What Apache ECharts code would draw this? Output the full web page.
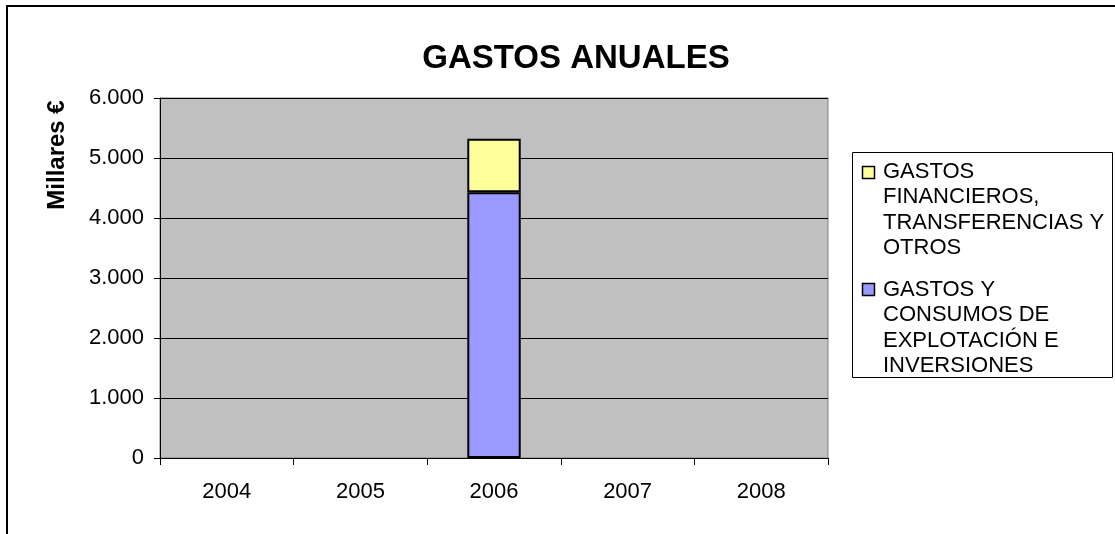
<!DOCTYPE html>
<html>
<head>
<meta charset="utf-8">
<script src="https://cdn.jsdelivr.net/npm/echarts@6/dist/echarts.min.js"></script>
<style>html,body{margin:0;padding:0;background:#fff;}#c{width:1115px;height:534px;}</style>
</head>
<body>
<div id="c"></div>
<script>
const titleText = 'GASTOS ANUALES';
const yAxisName = 'Millares €';
const categories = ['2004', '2005', '2006', '2007', '2008'];
const seriesNames = ['GASTOS Y CONSUMOS DE EXPLOTACIÓN E INVERSIONES', 'GASTOS FINANCIEROS, TRANSFERENCIAS Y OTROS'];
const legendLabels = ['GASTOS\nFINANCIEROS,\nTRANSFERENCIAS Y\nOTROS', 'GASTOS Y\nCONSUMOS DE\nEXPLOTACIÓN E\nINVERSIONES'];
const explotacion = [null, null, 4430, null, null];
const financieros = [null, null, 890, null, null];
const yTicks = [0, 1000, 2000, 3000, 4000, 5000, 6000];

const FONT = "'Liberation Sans', Arial, sans-serif";
const colors = ['#9999FF', '#FFFF99'];

const chart = echarts.init(document.getElementById('c'), null, {renderer: 'canvas'});
const fmt = v => String(v).replace(/\B(?=(\d{3})+(?!\d))/g, '.');

const legendItems = [
  {label: legendLabels[0], color: colors[1], sy: 166, ty: 159},
  {label: legendLabels[1], color: colors[0], sy: 283, ty: 277}
];
const graphics = [
  {type: 'rect', shape: {x: 7, y: 6, width: 1300, height: 800}, style: {fill: 'none', stroke: '#000', lineWidth: 2}, z: 100},
  {type: 'text', x: 57, y: 155, rotation: Math.PI / 2, style: {text: yAxisName, font: "bold 24px " + FONT, fill: '#000', textAlign: 'center', textVerticalAlign: 'middle'}},
  {type: 'rect', shape: {x: 852.5, y: 152.5, width: 260, height: 225}, style: {fill: '#fff', stroke: '#000', lineWidth: 1}}
];
legendItems.forEach(it => {
  graphics.push({type: 'rect', shape: {x: 862.5, y: it.sy + 0.5, width: 12, height: 12}, style: {fill: it.color, stroke: '#000', lineWidth: 1.5}});
  graphics.push({type: 'text', x: 883, y: it.ty, style: {text: it.label, font: "22px " + FONT, fill: '#000', lineHeight: 25.5, textAlign: 'left', textVerticalAlign: 'top'}});
});

chart.setOption({
  animation: false,
  backgroundColor: '#fff',
  textStyle: {fontFamily: FONT},
  title: {text: titleText, left: 571, top: 37, textAlign: 'center', textStyle: {fontFamily: FONT, fontSize: 33, fontWeight: 'bold', color: '#000'}},
  grid: {left: 160, top: 98, width: 668, height: 360, show: true, backgroundColor: '#C0C0C0', borderColor: '#808080', borderWidth: 1},
  xAxis: {
    type: 'category', data: categories, boundaryGap: true,
    axisLine: {lineStyle: {color: '#000', width: 1}},
    axisTick: {show: true, length: 7, lineStyle: {color: '#000'}},
    axisLabel: {color: '#000', fontSize: 22, fontFamily: FONT, margin: 23}
  },
  yAxis: {
    type: 'value', min: yTicks[0], max: yTicks[yTicks.length - 1], interval: 1000,
    axisLine: {show: true, lineStyle: {color: '#000', width: 1}},
    axisTick: {show: true, length: 6, lineStyle: {color: '#000'}},
    splitLine: {show: true, lineStyle: {color: '#000', width: 1}},
    axisLabel: {color: '#000', fontSize: 22, fontFamily: FONT, margin: 16, formatter: fmt}
  },
  graphic: graphics,
  series: [
    {name: seriesNames[0], type: 'bar', stack: 'a', data: explotacion, barWidth: '40%', itemStyle: {color: colors[0], borderColor: '#000', borderWidth: 2}},
    {name: seriesNames[1], type: 'bar', stack: 'a', data: financieros, barWidth: '40%', itemStyle: {color: colors[1], borderColor: '#000', borderWidth: 2}}
  ]
});
</script>
</body>
</html>
